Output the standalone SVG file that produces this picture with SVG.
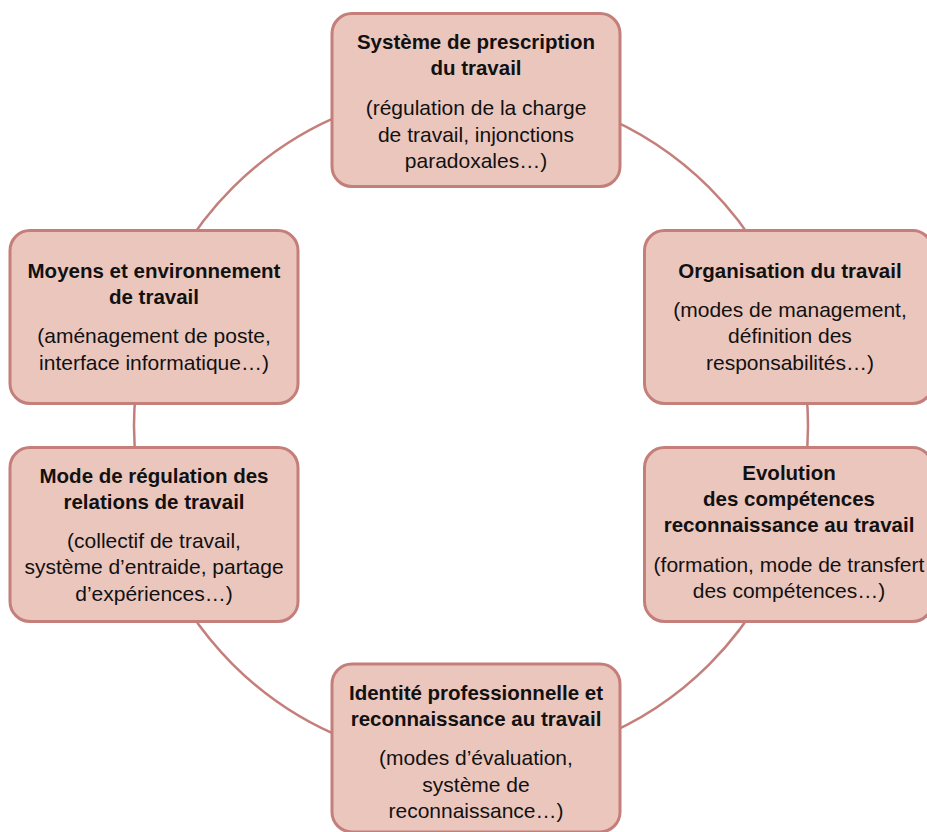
<svg xmlns="http://www.w3.org/2000/svg" width="927" height="832" viewBox="0 0 927 832">
<style>
.box{fill:#EBC6BD;stroke:#C47F7B;stroke-width:3}
.ring{fill:none;stroke:#C47F7B;stroke-width:2.5}
text{font-family:"Liberation Sans",Arial,Helvetica,sans-serif;font-size:21px;fill:#111;text-anchor:middle}
.t{font-weight:bold;font-size:20.5px}
</style>
<rect width="927" height="832" fill="#fff"/>
<g id="connectors">
<circle class="ring" cx="471" cy="426" r="337"/>
</g>
<g id="n-prescription">
<rect class="box" x="332" y="13.5" width="288" height="173" rx="20"/>
<text class="t" x="476" y="49">Système de prescription</text>
<text class="t" x="476" y="75">du travail</text>
<text x="476" y="115">(régulation de la charge</text>
<text x="476" y="142">de travail, injonctions</text>
<text x="476" y="168">paradoxales…)</text>
</g>
<g id="n-moyens">
<rect class="box" x="10" y="230.5" width="288" height="173" rx="20"/>
<text class="t" x="154" y="278">Moyens et environnement</text>
<text class="t" x="154" y="304">de travail</text>
<text x="154" y="343">(aménagement de poste,</text>
<text x="154" y="370">interface informatique…)</text>
</g>
<g id="n-organisation">
<rect class="box" x="644.5" y="230.5" width="288" height="173" rx="20"/>
<text class="t" x="790" y="278">Organisation du travail</text>
<text x="790" y="317">(modes de management,</text>
<text x="790" y="343">définition des</text>
<text x="790" y="370">responsabilités…)</text>
</g>
<g id="n-regulation">
<rect class="box" x="10" y="447.5" width="288" height="174" rx="20"/>
<text class="t" x="154" y="483">Mode de régulation des</text>
<text class="t" x="154" y="509">relations de travail</text>
<text x="154" y="548">(collectif de travail,</text>
<text x="154" y="574">système d’entraide, partage</text>
<text x="154" y="601">d’expériences…)</text>
</g>
<g id="n-evolution">
<rect class="box" x="644.5" y="447.5" width="288" height="174" rx="20"/>
<text class="t" x="789" y="480">Evolution</text>
<text class="t" x="789" y="506">des compétences</text>
<text class="t" x="789" y="532">reconnaissance au travail</text>
<text x="789" y="572">(formation, mode de transfert</text>
<text x="789" y="598">des compétences…)</text>
</g>
<g id="n-identite">
<rect class="box" x="332" y="664" width="288" height="168" rx="20"/>
<text class="t" x="476" y="700">Identité professionnelle et</text>
<text class="t" x="476" y="726">reconnaissance au travail</text>
<text x="476" y="765">(modes d’évaluation,</text>
<text x="476" y="792">système de</text>
<text x="476" y="818">reconnaissance…)</text>
</g>
</svg>
